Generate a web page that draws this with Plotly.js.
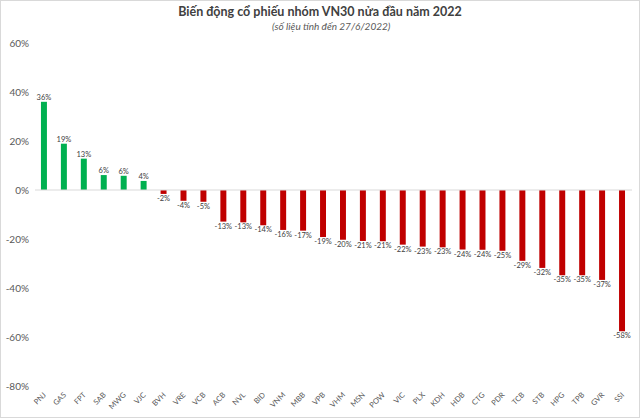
<!DOCTYPE html>
<html><head><meta charset="utf-8">
<script src="https://cdn.plot.ly/plotly-3.0.1.min.js"></script>
<style>
html,body{margin:0;padding:0;background:#fff;}
#wrap{width:640px;height:418px;box-sizing:border-box;border:1px solid #d9d9d9;overflow:hidden;}
#chart{width:638px;height:416px;}
</style></head>
<body><div id="wrap"><div id="chart"></div></div>
<script>
const tickers = ["PNJ","GAS","FPT","SAB","MWG","VJC","BVH","VRE","VCB","ACB","NVL","BID","VNM","MBB","VPB","VHM","MSN","POW","VIC","PLX","KDH","HDB","CTG","PDR","TCB","STB","HPG","TPB","GVR","SSI"];
const changePct = [36.0,18.9,12.8,6.1,5.8,3.7,-1.6,-4.4,-4.8,-12.9,-13.2,-14.4,-16.3,-16.6,-19.2,-20.3,-20.8,-20.9,-22.3,-23.1,-23.4,-24.3,-24.4,-24.8,-28.9,-31.8,-34.8,-34.8,-36.7,-57.7];
const yTicks = [60,40,20,0,-20,-40,-60,-80];

const vals = changePct.map(v => v/100);
const colors = changePct.map(v => v >= 0 ? "#00B050" : "#C00000");

const font = "Lato, 'Open Sans', sans-serif";
const trace = {
  type: "bar",
  x: tickers,
  y: vals,
  marker: {color: colors, line: {width: 0}},
  texttemplate: "%{y:.0%}",
  textposition: "outside",
  textangle: 0,
  constraintext: "none",
  cliponaxis: false,
  textfont: {family: font, size: 7.5, color: "#404040"},
  hoverinfo: "x+y"
};

const layout = {
  width: 638, height: 416,
  margin: {l: 29, r: 7, t: 42, b: 31},
  paper_bgcolor: "#fff", plot_bgcolor: "#fff",
  showlegend: false,
  bargap: 0.7,
  title: {
    text: "<b>Biến động cổ phiếu nhóm VN30 nửa đầu năm 2022</b>",
    font: {family: font, size: 12.5, color: "#404040"},
    x: 0.5, xanchor: "center", y: 0.985, yanchor: "top"
  },
  annotations: [{
    text: "<i>(số liệu tính đến 27/6/2022)</i>",
    xref: "paper", yref: "paper", x: 0.5, y: 1, yanchor: "bottom",
    yshift: 9, xanchor: "center", showarrow: false,
    font: {family: font, size: 10, color: "#595959"}
  }],
  xaxis: {
    type: "category",
    range: [-0.7, 29.5],
    showgrid: false, zeroline: false, showline: false,
    tickangle: -45,
    tickfont: {family: font, size: 7.5, color: "#595959"},
    ticks: "", ticklabelstandoff: 2
  },
  yaxis: {
    range: [-0.8, 0.6],
    tickvals: yTicks.map(v => v/100),
    ticktext: yTicks.map(v => v + "%"),
    showgrid: false, zeroline: false, showline: false,
    ticks: "",
    tickfont: {family: font, size: 10, color: "#595959"}
  },
  shapes: [{
    type: "line", xref: "x", yref: "y",
    x0: -0.45, x1: 29.5, y0: 0, y1: 0,
    line: {color: "#d9d9d9", width: 1}
  }]
};

Plotly.newPlot("chart", [trace], layout, {displayModeBar: false, staticPlot: true});
</script></body></html>
